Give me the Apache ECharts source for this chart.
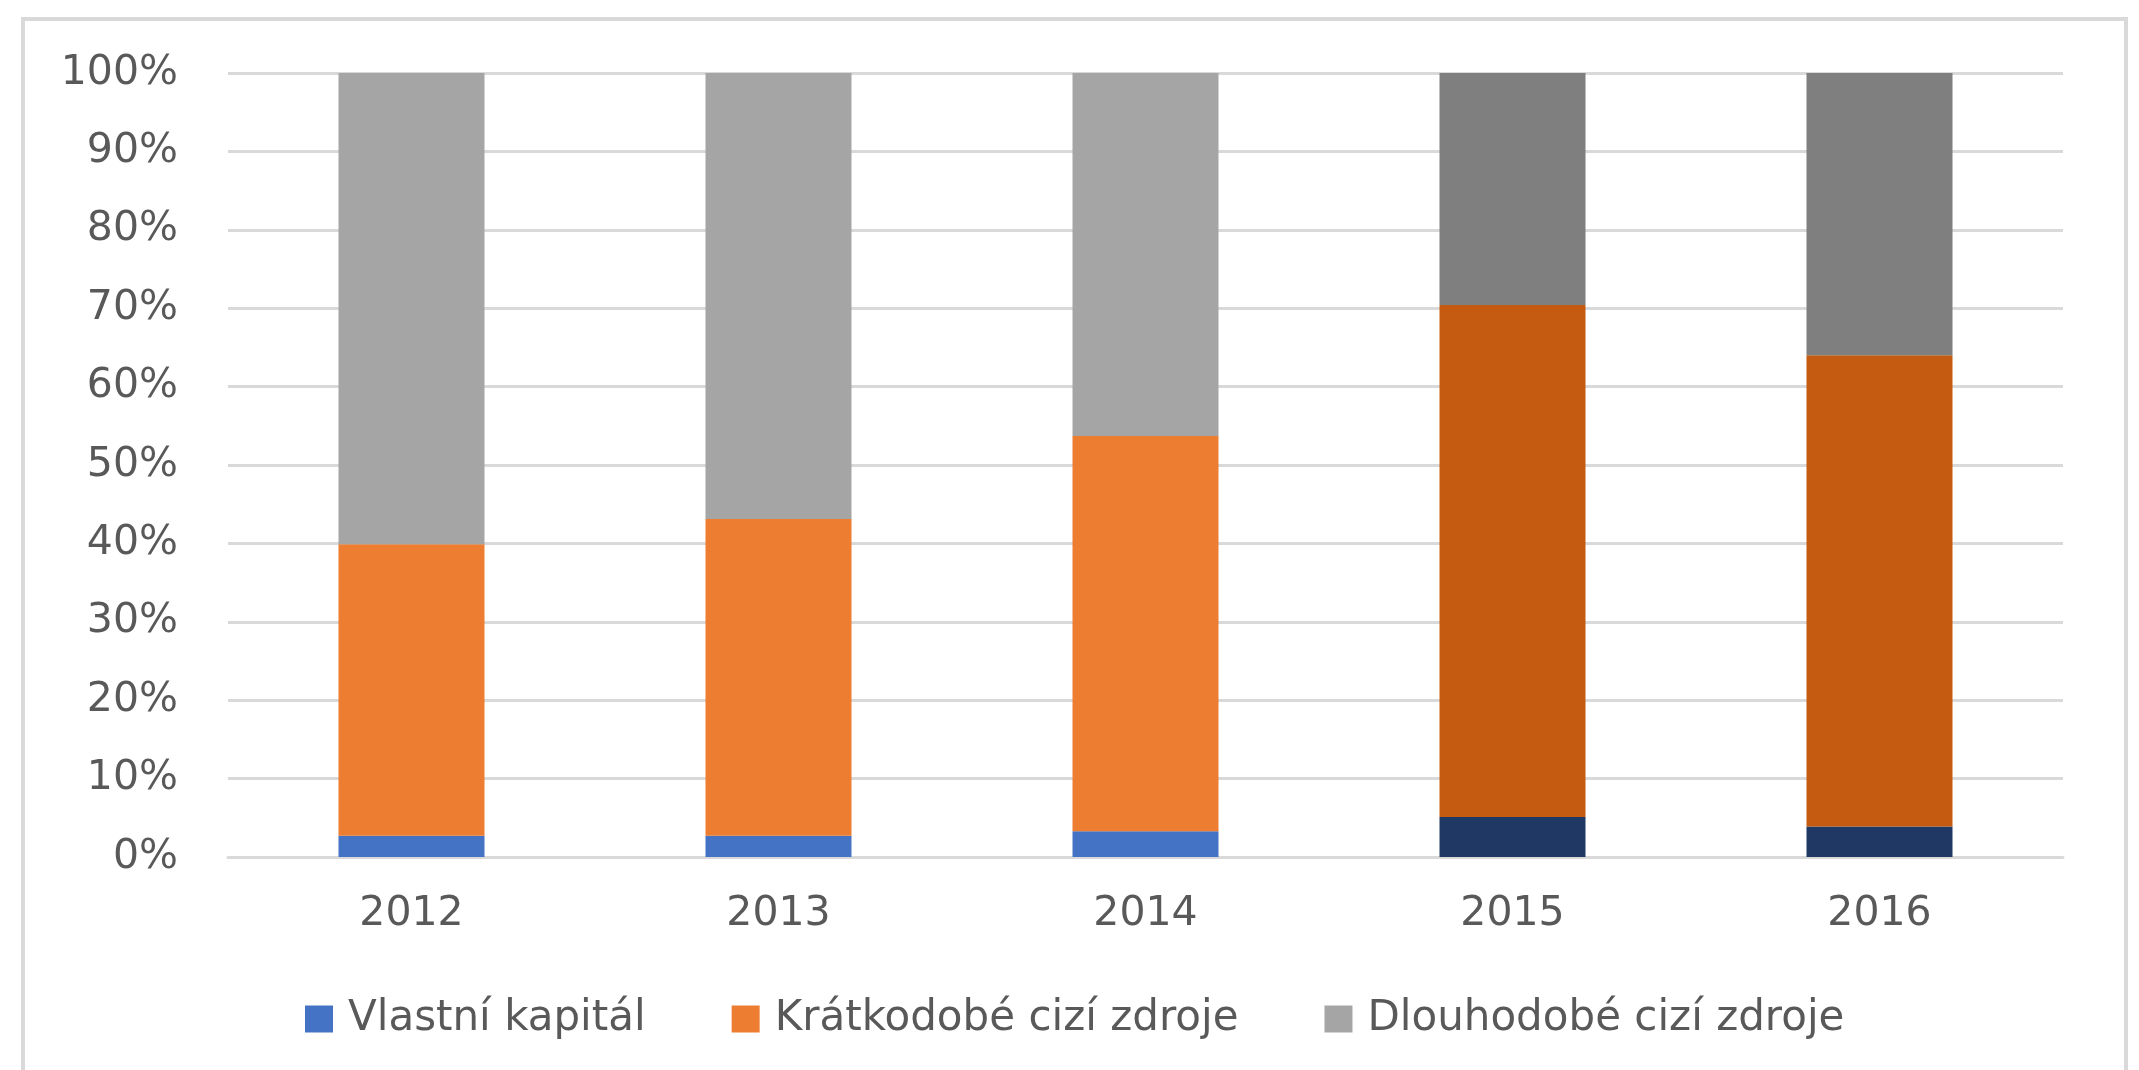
<!DOCTYPE html>
<html>
<head>
<meta charset="utf-8">
<script src="https://cdn.jsdelivr.net/npm/echarts@6/dist/echarts.min.js"></script>
<style>
html,body{margin:0;padding:0;background:#fff;}
#chart{width:2139px;height:1070px;}
</style>
</head>
<body>
<div id="chart"></div>
<script>
const categories = ['2012', '2013', '2014', '2015', '2016'];
const seriesNames = ['Vlastní kapitál', 'Krátkodobé cizí zdroje', 'Dlouhodobé cizí zdroje'];
const vlastniKapital = [2.7, 2.7, 3.3, 5.1, 3.9];
const kratkodobe = [37.2, 40.4, 50.4, 65.3, 60.1];
const dlouhodobe = [60.1, 56.9, 46.3, 29.6, 36.0];
const yTicks = [0, 10, 20, 30, 40, 50, 60, 70, 80, 90, 100];

const lightColors = ['#4472C4', '#ED7D31', '#A5A5A5'];
const darkColors = ['#203864', '#C55A11', '#7F7F7F'];
const darkFrom = 3; // index of first category drawn in darker shades

function items(values, s) {
  return values.map((v, i) => ({
    value: v,
    itemStyle: { color: i >= darkFrom ? darkColors[s] : lightColors[s] }
  }));
}

const font = 'DejaVu Sans';
const textColor = '#595959';

const chart = echarts.init(document.getElementById('chart'), null, { renderer: 'canvas' });
chart.setOption({
  animation: false,
  backgroundColor: '#ffffff',
  color: lightColors,
  graphic: [{
    type: 'rect',
    shape: { x: 23, y: 19, width: 2103, height: 1100 },
    style: { fill: 'none', stroke: '#d9d9d9', lineWidth: 4 },
    silent: true
  }],
  grid: { left: 228, right: 76, top: 73, bottom: 213, containLabel: false },
  legend: {
    left: 300,
    top: 993,
    itemWidth: 28,
    itemHeight: 27,
    itemGap: 86,
    icon: 'rect',
    textStyle: { fontFamily: font, fontSize: 42, color: textColor, padding: [0, 0, 0, 10] },
    data: seriesNames
  },
  xAxis: {
    type: 'category',
    data: categories,
    axisLine: { show: true, lineStyle: { color: '#d9d9d9', width: 3 } },
    axisTick: { show: false },
    axisLabel: { fontFamily: font, fontSize: 41, color: textColor, margin: 37 }
  },
  yAxis: {
    type: 'value',
    min: 0,
    max: 100,
    interval: 10,
    axisLine: { show: false },
    axisTick: { show: false },
    splitLine: { lineStyle: { color: '#d9d9d9', width: 3 } },
    axisLabel: {
      fontFamily: font, fontSize: 41, color: textColor, margin: 50,
      formatter: v => (yTicks.includes(v) ? v + '%' : '')
    }
  },
  series: [
    { name: seriesNames[0], type: 'bar', stack: 'total', barWidth: 146, data: items(vlastniKapital, 0) },
    { name: seriesNames[1], type: 'bar', stack: 'total', barWidth: 146, data: items(kratkodobe, 1) },
    { name: seriesNames[2], type: 'bar', stack: 'total', barWidth: 146, data: items(dlouhodobe, 2) }
  ]
});
</script>
</body>
</html>
